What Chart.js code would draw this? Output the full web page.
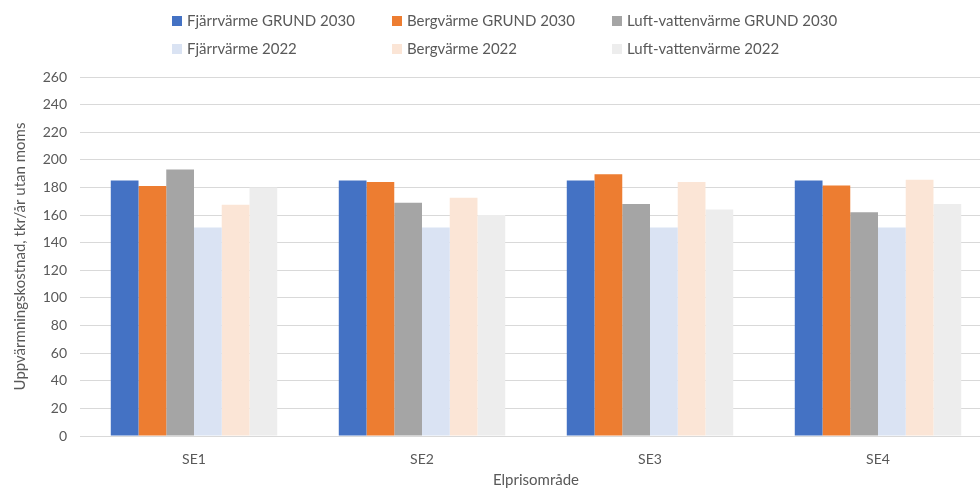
<!DOCTYPE html>
<html>
<head>
<meta charset="utf-8">
<script src="https://cdn.jsdelivr.net/npm/chart.js@4.4.0/dist/chart.umd.min.js"></script>
<style>
  html, body { margin: 0; padding: 0; background: #fff; overflow: hidden; }
  #wrap { position: relative; width: 1000px; height: 488px; }
  #legend { position: absolute; left: 0; top: 0; width: 980px; font-family: Lato, sans-serif; font-size: 15px; color: #595959; }
  .item { position: absolute; white-space: nowrap; line-height: 18px; }
  .box { display: inline-block; width: 10px; height: 10px; margin-right: 5px; vertical-align: 0px; }
</style>
</head>
<body>
<div id="wrap">
  <canvas id="chart" width="1000" height="488"></canvas>
  <div id="legend"></div>
</div>
<script>
// kategorier och värden (tkr/år utan moms)
const categories = ['SE1', 'SE2', 'SE3', 'SE4'];
const fjarr2030 = [185, 185, 185, 185];
const berg2030  = [181, 184, 189.5, 181.5];
const luft2030  = [193, 169, 168, 162];
const fjarr2022 = [151, 151, 151, 151];
const berg2022  = [167.5, 172.5, 184, 185.5];
const luft2022  = [180, 160, 164, 168];
const yTicks = [0, 20, 40, 60, 80, 100, 120, 140, 160, 180, 200, 220, 240, 260];

const series = [
  { label: 'Fjärrvärme GRUND 2030', data: fjarr2030, color: '#4472C4' },
  { label: 'Bergvärme GRUND 2030', data: berg2030, color: '#ED7D31' },
  { label: 'Luft-vattenvärme GRUND 2030', data: luft2030, color: '#A5A5A5' },
  { label: 'Fjärrvärme 2022', data: fjarr2022, color: '#DAE3F3' },
  { label: 'Bergvärme 2022', data: berg2022, color: '#FBE5D6' },
  { label: 'Luft-vattenvärme 2022', data: luft2022, color: '#EDEDED' }
];

// legend i rutnät, 3 kolumner
const legendEl = document.getElementById('legend');
const colX = [172, 392, 612];
const rowY = [11, 39];
series.forEach((s, i) => {
  const div = document.createElement('div');
  div.className = 'item';
  div.style.left = colX[i % 3] + 'px';
  div.style.top = rowY[Math.floor(i / 3)] + 'px';
  div.innerHTML = '<span class="box" style="background:' + s.color + '"></span>' + s.label;
  legendEl.appendChild(div);
});

const ctx = document.getElementById('chart').getContext('2d');
const chart = new Chart(ctx, {
  type: 'bar',
  data: {
    labels: categories,
    datasets: series.map(s => ({
      label: s.label,
      data: s.data,
      backgroundColor: s.color,
      borderWidth: 0,
      barPercentage: 1.0,
      categoryPercentage: 0.73
    }))
  },
  options: {
    responsive: false,
    animation: false,
    layout: { padding: { top: 77, right: 8, left: 0, bottom: 0 } },
    plugins: {
      legend: { display: false },
      tooltip: { enabled: false }
    },
    scales: {
      x: {
        afterFit: (axis) => { axis.height = 52; },
        grid: { display: false },
        border: { display: false },
        ticks: { color: '#595959', font: { family: 'Lato', size: 14 }, padding: 7 },
        title: { display: true, text: 'Elprisområde', color: '#595959', font: { family: 'Lato', size: 15 }, padding: { top: 0, bottom: -1 } }
      },
      y: {
        min: 0,
        max: 260,
        afterBuildTicks: (axis) => { axis.ticks = yTicks.map(v => ({ value: v })); },
        afterFit: (axis) => { axis.width = 80; },
        grid: { color: '#D9D9D9', drawTicks: false },
        border: { display: false },
        ticks: { color: '#595959', font: { family: 'Lato', size: 14 }, padding: 13 },
        title: { display: true, text: 'Uppvärmningskostnad, tkr/år utan moms', color: '#595959', font: { family: 'Lato', size: 15 }, padding: { top: 11, bottom: 0 } }
      }
    }
  }
});
</script>
</body>
</html>
